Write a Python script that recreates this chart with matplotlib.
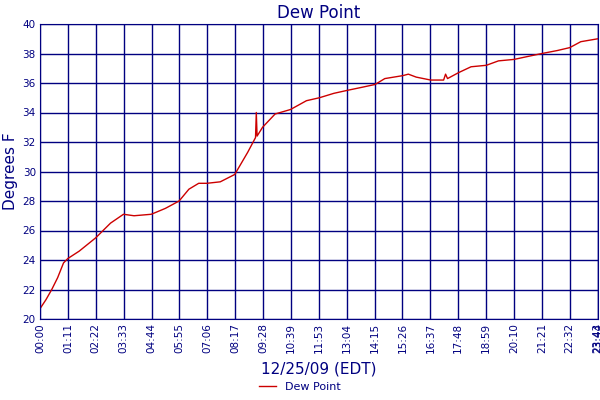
import matplotlib
matplotlib.use("Agg")
import matplotlib.pyplot as plt
import numpy as np

def hm(s):
    h, m = s.split(":"); return int(h)*60+int(m)

times = ["00:00","00:15","00:30","00:45","01:00","01:11","01:40","02:22","03:00","03:33","04:00","04:44","05:20","05:55",
         "06:20","06:45","07:06","07:40","08:17","08:50","09:10","09:12","09:14","09:28","10:00","10:39","11:20","11:53",
         "12:30","13:04","13:40","14:15","14:40","15:26","15:40","16:00","16:37","17:10","17:15","17:20","17:48","18:20",
         "18:59","19:30","20:10","20:45","21:21","22:00","22:32","23:00","23:44"]
dew = [20.7,21.3,22.0,22.8,23.8,24.1,24.6,25.5,26.5,27.1,27.0,27.1,27.5,28.0,
       28.8,29.2,29.2,29.3,29.8,31.3,32.3,34.0,32.4,33.0,33.9,34.2,34.8,35.0,
       35.3,35.5,35.7,35.9,36.3,36.5,36.6,36.4,36.2,36.2,36.6,36.3,36.7,37.1,
       37.2,37.5,37.6,37.8,38.0,38.2,38.4,38.8,39.0]
tick_labels = ["00:00","01:11","02:22","03:33","04:44","05:55","07:06","08:17","09:28","10:39","11:53",
               "13:04","14:15","15:26","16:37","17:48","18:59","20:10","21:21","22:32","23:43"]

navy = "#000080"
fig = plt.figure(figsize=(6, 4), dpi=100)
ax = fig.add_axes([40/600, 1-319/400, 558/600, 295/400])
t = [hm(s) for s in times]
ax.plot(t, dew, color="#cc0000", lw=1, label="Dew Point")
ax.set_xlim(0, 1424)
ax.set_ylim(20, 40)
xt = list(np.linspace(0, 1423, 21)) + [1424]
ax.set_xticks(xt)
ax.set_xticklabels(tick_labels + ["23:44"], rotation=90, fontsize=7.5, color=navy)
ax.set_yticks(range(20, 41, 2))
ax.tick_params(axis="y", labelsize=7.5, colors=navy, length=0, pad=3)
ax.tick_params(axis="x", colors=navy, length=0, pad=3)
ax.grid(True, color=navy, lw=1)
for s in ax.spines.values():
    s.set_color(navy)
ax.set_title("Dew Point", color=navy, fontsize=12, pad=4)
ax.set_ylabel("Degrees F", color=navy, fontsize=11, labelpad=3)
ax.set_xlabel("12/25/09 (EDT)", color=navy, fontsize=11, labelpad=6)
fig.legend(loc="lower center", bbox_to_anchor=(0.5, -0.005), frameon=False, fontsize=8,
           handlelength=1.5, labelcolor=navy)
fig.savefig("out.png")
